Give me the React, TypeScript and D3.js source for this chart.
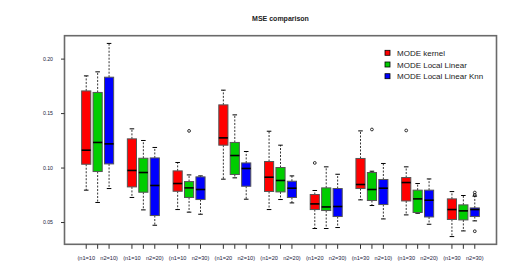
import React from "react";
import * as d3 from "d3";

const W = 527;
const H = 270;

const groupLabels: [string, string][] = [
  ["(n1=10", "n2=10)"],
  ["(n1=10", "n2=20)"],
  ["(n1=10", "n2=30)"],
  ["(n1=20", "n2=10)"],
  ["(n1=20", "n2=20)"],
  ["(n1=20", "n2=30)"],
  ["(n1=30", "n2=10)"],
  ["(n1=30", "n2=20)"],
  ["(n1=30", "n2=30)"],
];

const seriesNames = ["MODE kernel", "MODE Local Linear", "MODE Local Linear Knn"];
const seriesColors = ["#ff0000", "#00cd00", "#0000ff"];

// [lower whisker, Q1, median, Q3, upper whisker] per group
const kernelStats = [
  [0.0797, 0.1035, 0.1164, 0.1708, 0.1846],
  [0.073, 0.0827, 0.0978, 0.1268, 0.136],
  [0.0619, 0.0787, 0.0858, 0.0974, 0.1051],
  [0.0898, 0.121, 0.1277, 0.158, 0.1715],
  [0.0619, 0.0785, 0.0916, 0.106, 0.1338],
  [0.0445, 0.0619, 0.0671, 0.0757, 0.0794],
  [0.0708, 0.0812, 0.0849, 0.1088, 0.1341],
  [0.057, 0.0698, 0.0867, 0.0913, 0.1011],
  [0.0371, 0.0528, 0.0619, 0.0717, 0.0784],
];
const localLinearStats = [
  [0.0684, 0.0968, 0.1235, 0.1694, 0.1883],
  [0.0616, 0.0778, 0.0959, 0.109, 0.1253],
  [0.0595, 0.073, 0.0818, 0.0876, 0.0937],
  [0.091, 0.0941, 0.1115, 0.1235, 0.1488],
  [0.0711, 0.0781, 0.0886, 0.1005, 0.121],
  [0.0445, 0.061, 0.0643, 0.0818, 0.1011],
  [0.0656, 0.0702, 0.0803, 0.0959, 0.0971],
  [0.0585, 0.0592, 0.0717, 0.0797, 0.0858],
  [0.0423, 0.0524, 0.0607, 0.0662, 0.0748],
];
const knnStats = [
  [0.0812, 0.1038, 0.1222, 0.1834, 0.2144],
  [0.0475, 0.0564, 0.084, 0.1093, 0.1189],
  [0.0576, 0.0711, 0.0803, 0.0919, 0.0928],
  [0.0714, 0.0833, 0.0996, 0.1047, 0.1152],
  [0.068, 0.073, 0.0815, 0.0879, 0.0928],
  [0.0454, 0.0555, 0.0647, 0.0812, 0.0943],
  [0.0533, 0.0665, 0.0815, 0.0895, 0.1042],
  [0.0484, 0.0551, 0.0705, 0.0797, 0.09],
  [0.0515, 0.0555, 0.0619, 0.0634, 0.0742],
];
const allStats = [kernelStats, localLinearStats, knnStats];

// outliers: [group, series, value]
const outliers: [number, number, number][] = [
  [2, 1, 0.1341],
  [5, 0, 0.1047],
  [6, 1, 0.1354],
  [7, 0, 0.1345],
  [8, 2, 0.0775],
  [8, 2, 0.0753],
  [8, 2, 0.042],
];

const yTicks = [0.05, 0.1, 0.15, 0.2];

const plot = { left: 64.5, right: 496.5, top: 35.7, bottom: 244.3 };

export default function App() {
  const nUnits = groupLabels.length * 4 - 1;
  const pad = (nUnits) * 0.04;
  const x = d3
    .scaleLinear()
    .domain([0.5 - pad, nUnits + 0.5 + pad])
    .range([plot.left, plot.right]);

  const allVals: number[] = [];
  allStats.forEach((s) => s.forEach((r) => allVals.push(r[0], r[4])));
  outliers.forEach((o) => allVals.push(o[2]));
  const [vmin, vmax] = d3.extent(allVals) as [number, number];
  const span = vmax - vmin;
  const y = d3
    .scaleLinear()
    .domain([vmin - span * 0.04, vmax + span * 0.04])
    .range([plot.bottom, plot.top]);

  const unitPos = (g: number, s: number) => g * 4 + s + 1;
  const bw = (x(1) - x(0)) * 0.8;
  const cap = bw / 2;

  const boxes: React.ReactNode[] = [];
  groupLabels.forEach((_, g) => {
    allStats.forEach((stats, s) => {
      const [lo, q1, med, q3, hi] = stats[g];
      const cx = x(unitPos(g, s));
      boxes.push(
        <g key={`b${g}-${s}`}>
          <line x1={cx} x2={cx} y1={y(q3)} y2={y(hi)} stroke="#000" strokeWidth={0.8} strokeDasharray="2,1.5" />
          <line x1={cx} x2={cx} y1={y(q1)} y2={y(lo)} stroke="#000" strokeWidth={0.8} strokeDasharray="2,1.5" />
          <line x1={cx - cap / 2} x2={cx + cap / 2} y1={y(hi)} y2={y(hi)} stroke="#000" strokeWidth={1} />
          <line x1={cx - cap / 2} x2={cx + cap / 2} y1={y(lo)} y2={y(lo)} stroke="#000" strokeWidth={1} />
          <rect x={cx - bw / 2} y={y(q3)} width={bw} height={y(q1) - y(q3)} fill={seriesColors[s]} stroke="#555" strokeWidth={1} />
          <line x1={cx - bw / 2} x2={cx + bw / 2} y1={y(med)} y2={y(med)} stroke="#000" strokeWidth={1.6} />
        </g>
      );
    });
  });

  const xTicks: React.ReactNode[] = [];
  groupLabels.forEach((lab, g) => {
    [0, 1, 2].forEach((s) => {
      const cx = x(unitPos(g, s));
      xTicks.push(<line key={`t${g}-${s}`} x1={cx} x2={cx} y1={plot.bottom} y2={plot.bottom + 4.5} stroke="#333" strokeWidth={1} />);
    });
    xTicks.push(
      <text key={`l${g}a`} x={x(unitPos(g, 0))} y={259.5} textAnchor="middle" fontSize={5.6} fill="#1a1a40">{lab[0]}</text>,
      <text key={`l${g}b`} x={x(unitPos(g, 2))} y={259.5} textAnchor="middle" fontSize={5.6} fill="#1a1a40">{lab[1]}</text>
    );
  });

  return (
    <svg width={W} height={H} style={{ position: "absolute", left: 0, top: 0, fontFamily: "'Liberation Sans', Arial, sans-serif" }}>
      <rect width={W} height={H} fill="#fff" />
      <text x={(plot.left + plot.right) / 2} y={21} textAnchor="middle" fontSize={7} fontWeight="bold" fill="#222">MSE comparison</text>
      {boxes}
      {outliers.map((o, i) => (
        <circle key={`o${i}`} cx={x(unitPos(o[0], o[1]))} cy={y(o[2])} r={1.4} fill="none" stroke="#000" strokeWidth={0.8} />
      ))}
      <rect x={plot.left} y={plot.top} width={plot.right - plot.left} height={plot.bottom - plot.top} fill="none" stroke="#6a6a6a" strokeWidth={1.6} />
      {yTicks.map((t) => (
        <g key={`y${t}`}>
          <line x1={plot.left - 3.5} x2={plot.left} y1={y(t)} y2={y(t)} stroke="#333" strokeWidth={1} />
          <text x={53} y={y(t) + 1.8} textAnchor="end" fontSize={5.2} fill="#1a1a40">{t.toFixed(2)}</text>
        </g>
      ))}
      {xTicks}
      {seriesNames.map((n, i) => (
        <g key={`lg${i}`}>
          <rect x={385} y={50.3 + i * 11.7} width={5} height={5} fill={seriesColors[i]} stroke="#000" strokeWidth={0.8} />
          <text x={397} y={55.8 + i * 11.7} fontSize={8} fill="#1a1a1a">{n}</text>
        </g>
      ))}
    </svg>
  );
}
